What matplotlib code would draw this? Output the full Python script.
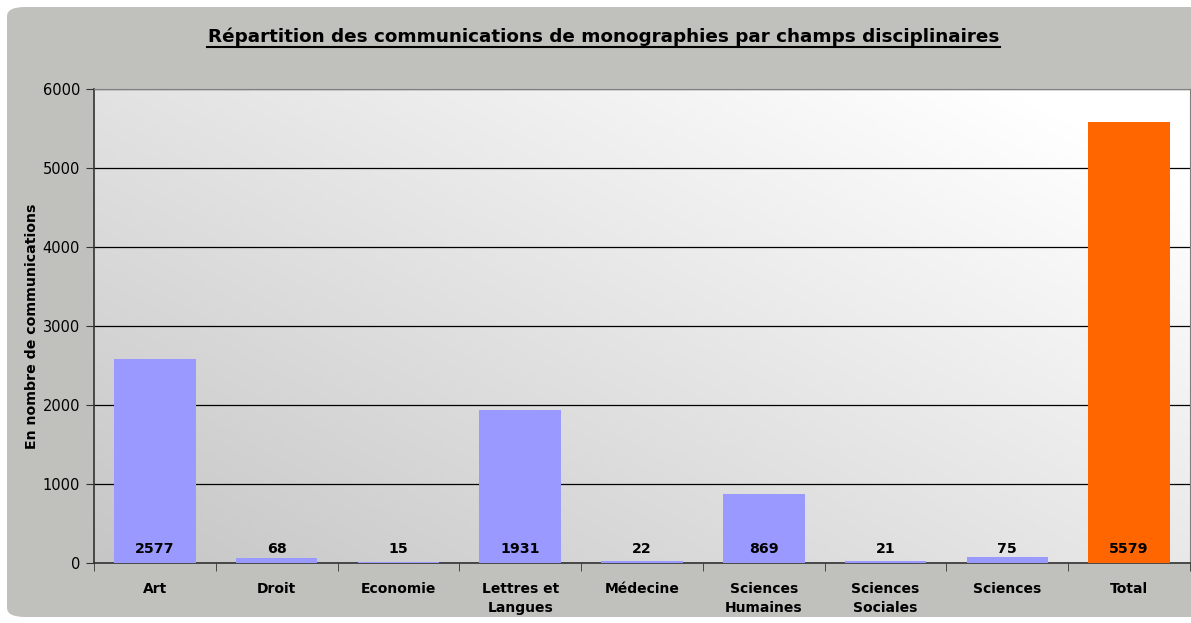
import numpy as np
import matplotlib.pyplot as plt
from matplotlib.patches import FancyBboxPatch
from matplotlib.colors import LinearSegmentedColormap

# Data
categories = ["Art", "Droit", "Economie", "Lettres et\nLangues", "Médecine",
              "Sciences\nHumaines", "Sciences\nSociales", "Sciences", "Total"]
values = [2577, 68, 15, 1931, 22, 869, 21, 75, 5579]
bar_colors = ["#9999ff"] * 8 + ["#ff6600"]
y_ticks = [0, 1000, 2000, 3000, 4000, 5000, 6000]

W, H = 1191, 623
fig = plt.figure(figsize=(W / 100, H / 100), dpi=100)
fig.patch.set_facecolor("white")

# Rounded grey chart background
bg = FancyBboxPatch((7 / W, 1 - 617 / H), 1.02, 610 / H,
                    boxstyle="round,pad=0,rounding_size=0.015",
                    transform=fig.transFigure, facecolor="#c0c0bd",
                    edgecolor="none", zorder=-10)
fig.patches.append(bg)

rect = [94 / W, 1 - 563 / H, (1190 - 94) / W, (563 - 89) / H]

# Gradient plot area behind the chart: grey bottom-left -> white top-right
ax_bg = fig.add_axes(rect, zorder=0)
gx, gy = np.meshgrid(np.linspace(0, 1, 200), np.linspace(0, 1, 200))
grad = np.clip((gx * 0.55 + gy * 0.45) * 1.1, 0, 1)
cmap = LinearSegmentedColormap.from_list("bg", ["#c6c6c6", "#ffffff"])
ax_bg.imshow(grad, origin="lower", cmap=cmap, aspect="auto", vmin=0, vmax=1)
ax_bg.axis("off")

ax = fig.add_axes(rect, zorder=1)
ax.set_facecolor("none")

x = np.arange(len(categories))
ax.bar(x, values, width=0.67, color=bar_colors, zorder=3)

# Value labels near the baseline
for xi, v in zip(x, values):
    ax.annotate(f"{v}", xy=(xi, 0), xytext=(0, 7.5), textcoords="offset points",
                ha="center", va="baseline", fontsize=10.2, fontweight="bold",
                color="black", zorder=4)

ax.set_xlim(-0.5, len(categories) - 0.5)
ax.set_ylim(0, 6000)
ax.set_yticks(y_ticks)
ax.set_yticklabels([str(t) for t in y_ticks], fontsize=10.5)
ax.yaxis.grid(True, color="black", linewidth=0.9, zorder=1)
ax.set_axisbelow(True)

# Category labels centred, tick marks at category boundaries
ax.set_xticks(x)
ax.set_xticklabels(categories, fontsize=10, fontweight="bold", linespacing=1.4)
ax.tick_params(axis="x", which="major", length=0, pad=14)
ax.set_xticks(np.arange(-0.5, len(categories)), minor=True)
ax.tick_params(axis="x", which="minor", length=6, direction="out", color="#333333")
ax.tick_params(axis="y", length=6, direction="out", color="#333333", pad=4)

for side in ("left", "bottom"):
    ax.spines[side].set_color("#333333")
    ax.spines[side].set_linewidth(1.2)
for side in ("top", "right"):
    ax.spines[side].set_color("#808080")

ax.set_ylabel("En nombre de communications", fontsize=10.2, fontweight="bold")
ax.yaxis.set_label_coords((39 - 94) / (1190 - 94), 0.5)

fig.text((207 + 1000) / 2 / W, 1 - 37 / H,
         "Répartition des communications de monographies par champs disciplinaires",
         ha="center", va="center", fontsize=13.2, fontweight="bold")
# underline of the title
fig.add_artist(plt.Line2D([207 / W, 1000 / W], [1 - 47 / H, 1 - 47 / H],
                          transform=fig.transFigure, color="black", linewidth=1.5))

fig.savefig("out.png", dpi=100)
